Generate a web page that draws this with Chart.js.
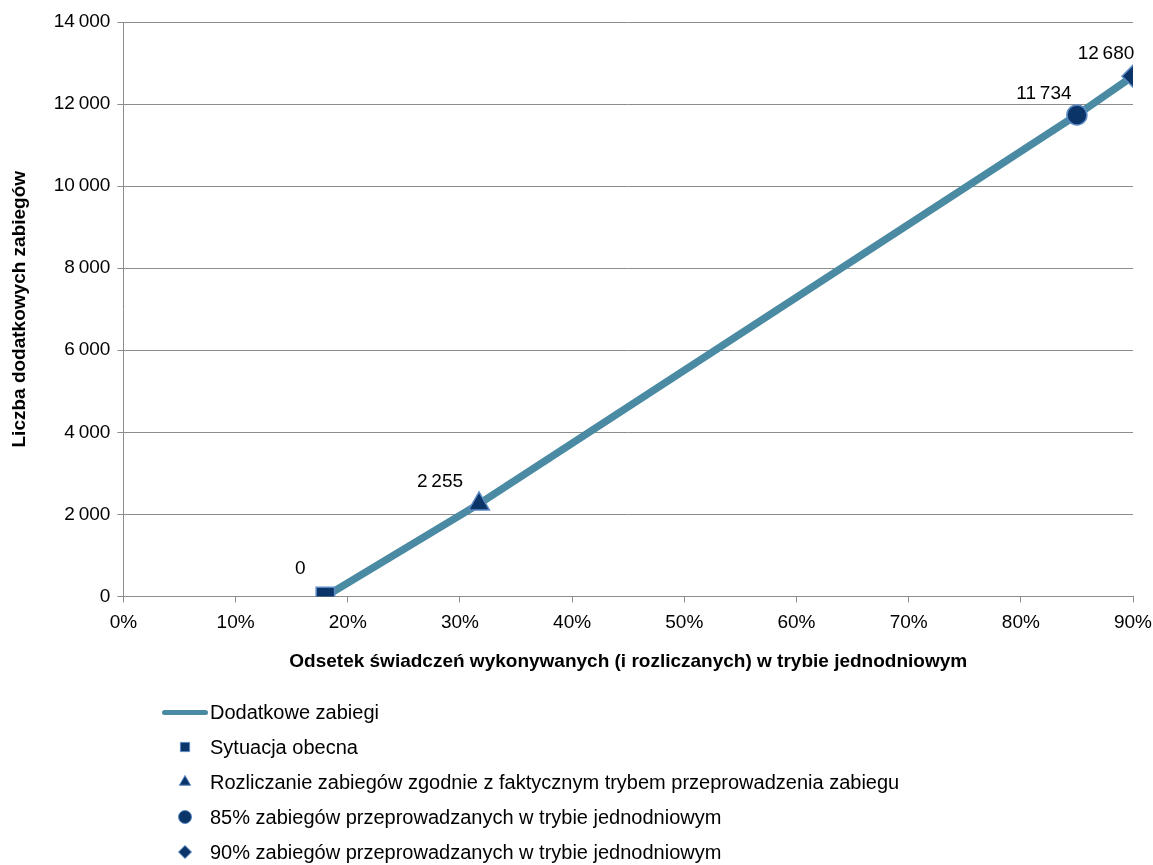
<!DOCTYPE html>
<html lang="pl">
<head>
<meta charset="utf-8">
<title>Dodatkowe zabiegi</title>
<script src="https://cdn.jsdelivr.net/npm/chart.js@4"></script>
<style>
  html, body { margin: 0; padding: 0; background: #fff; }
  #wrap { position: relative; width: 1153px; height: 865px; }
  #wykres { position: absolute; left: 0; top: 0; }
  #legenda {
    position: absolute; left: 162px; top: 694px;
    font-family: 'Liberation Sans', Arial, sans-serif; font-size: 20px; color: #000;
    list-style: none; margin: 0; padding: 0;
  }
  #legenda li { height: 35px; line-height: 28px; display: flex; align-items: center; }
  #legenda .znak { width: 48px; height: 28px; position: relative; flex: none; }
  #legenda .linia { position: absolute; left: 0; top: 12px; width: 46px; height: 5px; border-radius: 3px; }
  #legenda .pkt { position: absolute; left: 16px; top: 7px; }
</style>
</head>
<body>
<div id="wrap">
  <canvas id="wykres" width="1153" height="865"></canvas>
  <ul id="legenda"></ul>
</div>
<script>
// dane
const linia_x = [18, 31.7, 85, 90];
const linia_y = [0, 2255, 11734, 12680];

const punkty_nazwy = [
  'Sytuacja obecna',
  'Rozliczanie zabiegów zgodnie z faktycznym trybem przeprowadzenia zabiegu',
  '85% zabiegów przeprowadzanych w trybie jednodniowym',
  '90% zabiegów przeprowadzanych w trybie jednodniowym'
];
const punkty_x = [18, 31.7, 85, 90];
const punkty_y = [0, 2255, 11734, 12680];

const yTicks = [0, 2000, 4000, 6000, 8000, 10000, 12000, 14000];
const xTicks = [0, 10, 20, 30, 40, 50, 60, 70, 80, 90];

const FONT = "'Liberation Sans', Arial, sans-serif";
const GRANAT = '#0b3468';
const OBWOD = '#5b8ac4';
const TURKUS = '#4a8aa3';

// separator tysięcy jak w oryginale (wąska spacja)
function fmt(v) {
  return String(Math.round(v)).replace(/\B(?=(\d{3})+(?!\d))/g, '\u2009');
}

const style = ['rect', 'triangle', 'circle', 'rectRot'];
const rozmiar = [13, 12, 10, 11];
const przes = [[-25, -28], [-39, -22], [-33, -21], [-27, -22]];

const datasets = [{
  label: 'Dodatkowe zabiegi',
  data: linia_x.map((x, i) => ({ x: x, y: linia_y[i] })),
  borderColor: TURKUS,
  backgroundColor: TURKUS,
  borderWidth: 7.5,
  pointRadius: 0,
  showLine: true,
  order: 2
}];
punkty_nazwy.forEach((n, i) => {
  datasets.push({
    label: n,
    data: [{ x: punkty_x[i], y: punkty_y[i] }],
    pointStyle: style[i],
    pointRadius: rozmiar[i],
    pointBackgroundColor: GRANAT,
    pointBorderColor: OBWOD,
    pointBorderWidth: 1.5,
    showLine: false,
    etykieta: przes[i],
    order: 1
  });
});

const etykiety = {
  id: 'etykiety',
  afterDatasetsDraw(chart) {
    const ctx = chart.ctx;
    ctx.save();
    ctx.font = '19px ' + FONT;
    ctx.fillStyle = '#000';
    ctx.textAlign = 'center';
    ctx.textBaseline = 'middle';
    chart.data.datasets.forEach((ds, i) => {
      if (!ds.etykieta) return;
      const p = chart.getDatasetMeta(i).data[0];
      ctx.fillText(fmt(ds.data[0].y), p.x + ds.etykieta[0], p.y + ds.etykieta[1]);
    });
    ctx.restore();
  }
};

const chart = new Chart(document.getElementById('wykres'), {
  type: 'scatter',
  data: { datasets: datasets },
  plugins: [etykiety],
  options: {
    responsive: false,
    animation: false,
    layout: { padding: { top: 22, right: 0, left: 8, bottom: 192 } },
    plugins: {
      legend: { display: false },
      tooltip: { enabled: false }
    },
    scales: {
      x: {
        type: 'linear', min: 0, max: 90,
        afterBuildTicks: s => { s.ticks = xTicks.map(v => ({ value: v })); },
        afterFit: s => { s.paddingRight = 20; },
        grid: { drawOnChartArea: false, tickLength: 6, color: '#8c8c8c' },
        border: { color: '#8c8c8c' },
        ticks: { padding: 9, color: '#000', font: { family: FONT, size: 19 }, callback: v => v + '%' },
        title: {
          display: true,
          text: 'Odsetek świadczeń wykonywanych (i rozliczanych) w trybie jednodniowym',
          color: '#000', font: { family: FONT, size: 19, weight: 'bold' },
          padding: { top: 7, bottom: 0 }
        }
      },
      y: {
        min: 0, max: 14000,
        afterBuildTicks: s => { s.ticks = yTicks.map(v => ({ value: v })); },
        grid: { tickLength: 6, color: '#8c8c8c' },
        border: { color: '#8c8c8c' },
        ticks: { padding: 7, color: '#000', font: { family: FONT, size: 19 }, callback: v => fmt(v) },
        title: {
          display: true,
          text: 'Liczba dodatkowych zabiegów',
          color: '#000', font: { family: FONT, size: 19, weight: 'bold' },
          padding: { top: 0, bottom: 16 }
        }
      }
    }
  }
});

// legenda w układzie pionowym, jak w oryginale
const lista = document.getElementById('legenda');
chart.data.datasets.forEach(ds => {
  const li = document.createElement('li');
  const znak = document.createElement('span');
  znak.className = 'znak';
  if (ds.showLine) {
    const l = document.createElement('span');
    l.className = 'linia';
    l.style.background = ds.borderColor;
    znak.appendChild(l);
  } else {
    const c = document.createElement('canvas');
    c.className = 'pkt';
    c.width = 14; c.height = 14;
    const cx = c.getContext('2d');
    cx.fillStyle = ds.pointBackgroundColor;
    cx.strokeStyle = ds.pointBorderColor;
    cx.lineWidth = 1;
    Chart.helpers.drawPoint(cx, { pointStyle: ds.pointStyle, radius: 6.5, rotation: 0, borderWidth: 1 }, 7, 7);
    znak.appendChild(c);
  }
  const t = document.createElement('span');
  t.textContent = ds.label;
  li.appendChild(znak);
  li.appendChild(t);
  lista.appendChild(li);
});
</script>
</body>
</html>
